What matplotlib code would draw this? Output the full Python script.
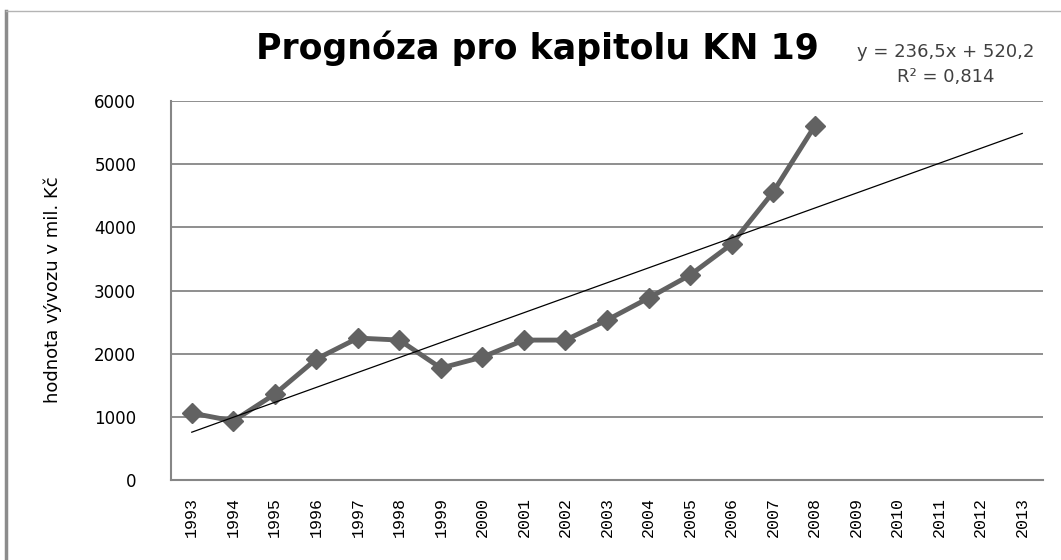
import matplotlib
matplotlib.use("Agg")
import matplotlib.pyplot as plt
from matplotlib.lines import Line2D

# roky (kategorie na ose x)
roky = [str(r) for r in range(1993, 2014)]
# hodnota vyvozu v mil. Kc
vyvoz = [1060, 934, 1360, 1915, 2247, 2215, 1772, 1946, 2215, 2215,
         2532, 2880, 3244, 3734, 4557, 5601]
# linearni trend z grafu
k_trend = 236.5
q_trend = 520.2
yticks = [0, 1000, 2000, 3000, 4000, 5000, 6000]

fig = plt.figure(figsize=(10.61, 5.6), dpi=100)
ax = fig.add_axes([171 / 1061, 80 / 560, 872 / 1061, 379 / 560])

x_data = list(range(len(vyvoz)))
ax.plot(x_data, vyvoz, color="#626262", lw=3.5, marker="D", ms=10,
        mec="#626262", mfc="#626262", zorder=3)

x_trend = list(range(len(roky)))
y_trend = [k_trend * (i + 1) + q_trend for i in x_trend]
ax.plot(x_trend, y_trend, color="black", lw=0.9, zorder=4)

ax.set_xlim(-0.5, len(roky) - 0.5)
ax.set_ylim(0, 6000)
ax.set_yticks(yticks)
ax.set_yticklabels([str(v) for v in yticks], fontsize=12, family="DejaVu Sans")
ax.set_xticks(x_trend)
ax.set_xticklabels(roky, rotation=90, fontsize=12, family="Liberation Mono")
ax.tick_params(length=0, pad=12)
ax.tick_params(axis="y", pad=25)
ax.grid(axis="y", color="#868686", lw=1.3)
ax.set_axisbelow(True)
for s in ["top", "right"]:
    ax.spines[s].set_visible(False)
for s in ["left", "bottom"]:
    ax.spines[s].set_color("#868686")
    ax.spines[s].set_linewidth(1.5)

fig.text(53 / 1061, 1 - 290 / 560, "hodnota vývozu v mil. Kč", rotation=90,
         ha="center", va="center", fontsize=13)

fig.text(537 / 1061, 1 - 48 / 560, "Prognóza pro kapitolu KN 19", ha="center",
         va="center", fontsize=25, fontweight="bold")
fig.text(946 / 1061, 1 - 52 / 560, "y = 236,5x + 520,2", ha="center",
         va="center", fontsize=13, color="#404040")
fig.text(946 / 1061, 1 - 77 / 560, "R² = 0,814", ha="center",
         va="center", fontsize=13, color="#404040")

# ramecek grafu
fig.add_artist(Line2D([6 / 1061, 6 / 1061], [0, 1 - 11 / 560],
                      color="#8c8c8c", lw=2.5))
fig.add_artist(Line2D([6 / 1061, 1], [1 - 11 / 560, 1 - 11 / 560],
                      color="#b4b4b4", lw=1))

fig.savefig("out.png", dpi=100)
